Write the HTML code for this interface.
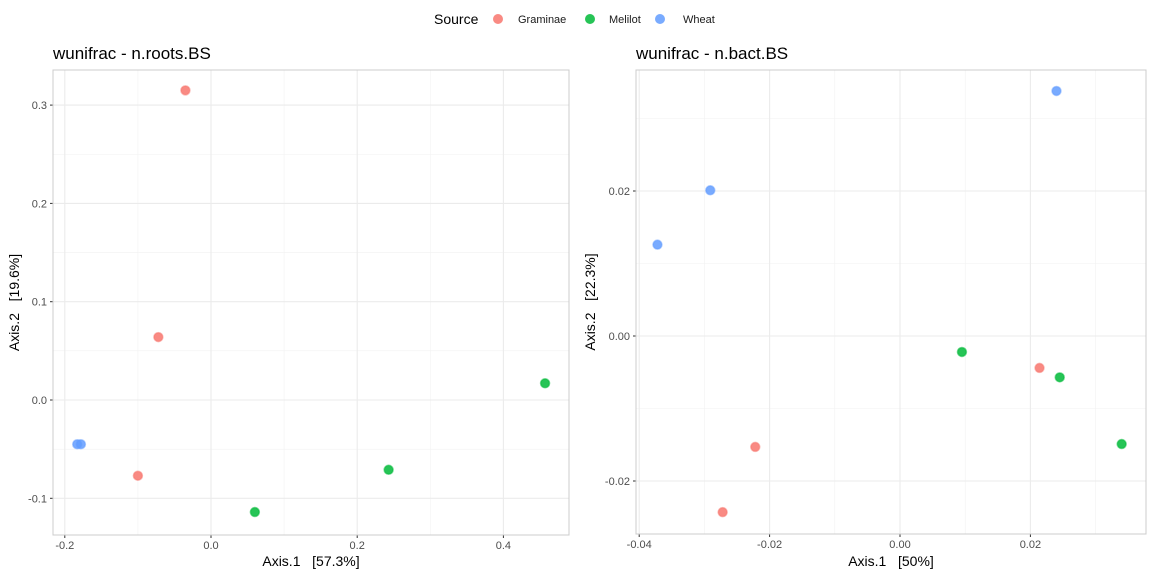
<!DOCTYPE html>
<html><head><meta charset="utf-8"><style>
body{margin:0;background:#fff;width:1152px;height:576px;overflow:hidden;font-family:"Liberation Sans",sans-serif}
text{white-space:pre}
</style></head><body>
<svg id="svg" width="1152" height="576" xmlns="http://www.w3.org/2000/svg" font-family="Liberation Sans, sans-serif">
<g>
<text x="434" y="24" font-size="14" fill="#000">Source</text>
<circle cx="498" cy="19" r="5" fill="#F8766D" fill-opacity="0.85"/>
<text x="518" y="23" font-size="11" fill="#1a1a1a">Graminae</text>
<circle cx="590" cy="19" r="5" fill="#00BA38" fill-opacity="0.85"/>
<text x="609" y="23" font-size="11" fill="#1a1a1a">Melilot</text>
<circle cx="660" cy="19" r="5" fill="#619CFF" fill-opacity="0.85"/>
<text x="683" y="23" font-size="11" fill="#1a1a1a">Wheat</text>
</g>
</svg>
<script>
// Left panel data
const leftGraminaeX=[-0.035,-0.072,-0.1];
const leftGraminaeY=[0.315,0.064,-0.077];
const leftMelilotX=[0.457,0.243,0.06];
const leftMelilotY=[0.017,-0.071,-0.114];
const leftWheatX=[-0.183,-0.178];
const leftWheatY=[-0.045,-0.045];
const leftXTicks=[-0.2,0,0.2,0.4];
const leftXTickLabels=["-0.2","0.0","0.2","0.4"];
const leftYTicks=[-0.1,0,0.1,0.2,0.3];
const leftYTickLabels=["-0.1","0.0","0.1","0.2","0.3"];
// Right panel data
const rightGraminaeX=[0.0214,-0.0222,-0.0272];
const rightGraminaeY=[-0.0044,-0.0153,-0.0243];
const rightMelilotX=[0.0095,0.0245,0.034];
const rightMelilotY=[-0.0022,-0.0057,-0.0149];
const rightWheatX=[0.024,-0.0291,-0.0372];
const rightWheatY=[0.0338,0.0201,0.0126];
const rightXTicks=[-0.04,-0.02,0,0.02];
const rightXTickLabels=["-0.04","-0.02","0.00","0.02"];
const rightYTicks=[-0.02,0,0.02];
const rightYTickLabels=["-0.02","0.00","0.02"];

const NS="http://www.w3.org/2000/svg";
const svg=document.getElementById('svg');
function mk(tag,attrs,parent){const e=document.createElementNS(NS,tag);for(const k in attrs)e.setAttribute(k,attrs[k]);(parent||svg).appendChild(e);return e;}

function panel(p){
  const g=mk('g',{});
  
  
  const sx=v=>p.x0px+(v-p.x0v)*p.xs, sy=v=>p.y0px-(v-p.y0v)*p.ys;
  const xs=p.xTicks, ys=p.yTicks;
  const xstep=xs[1]-xs[0], ystep=ys[1]-ys[0];
  for(let v=xs[0]-xstep*1.5;v<=xs[xs.length-1]+xstep*1.5;v+=xstep){const px=sx(v);if(px>p.L&&px<p.R){const l=mk('line',{x1:px,x2:px,y1:p.T,y2:p.B,stroke:'#f2f2f2','stroke-width':0.6},g);}}
  for(let v=ys[0]-ystep*1.5;v<=ys[ys.length-1]+ystep*1.5;v+=ystep){const py=sy(v);if(py>p.T&&py<p.B){const l=mk('line',{x1:p.L,x2:p.R,y1:py,y2:py,stroke:'#f2f2f2','stroke-width':0.6},g);}}
  xs.forEach((v,i)=>{const px=sx(v);
    const l=mk('line',{x1:px,x2:px,y1:p.T,y2:p.B,stroke:'#ebebeb','stroke-width':1.1},g);
    
    mk('line',{x1:px,x2:px,y1:p.B,y2:p.B+3,stroke:'#333','stroke-width':1},g);
    const t=mk('text',{x:px,y:p.B+14,'font-size':11,fill:'#4d4d4d','text-anchor':'middle'},g);t.textContent=p.xLabels[i];
    });
  ys.forEach((v,i)=>{const py=sy(v);
    const l=mk('line',{x1:p.L,x2:p.R,y1:py,y2:py,stroke:'#ebebeb','stroke-width':1.1},g);
    
    mk('line',{x1:p.L-3,x2:p.L,y1:py,y2:py,stroke:'#333','stroke-width':1},g);
    const t=mk('text',{x:p.L-6,y:py+4,'font-size':11,fill:'#4d4d4d','text-anchor':'end'},g);t.textContent=p.yLabels[i];
    });
  const b=mk('rect',{x:p.L,y:p.T,width:p.R-p.L,height:p.B-p.T,fill:'none',stroke:'#cccccc','stroke-width':1},g);
  
  const ti=mk('text',{x:p.L,y:59,'font-size':17,fill:'#000'},g);ti.textContent=p.title;
  
  const xt=mk('text',{x:(p.L+p.R)/2,y:566,'font-size':14,fill:'#000','text-anchor':'middle'},g);xt.textContent=p.xTitle;
  
  const cy=(p.T+p.B)/2;
  const yt=mk('text',{x:p.yTitleX,y:cy,'font-size':14,fill:'#000','text-anchor':'middle',transform:`rotate(-90 ${p.yTitleX} ${cy})`},g);yt.textContent=p.yTitle;
  
  p.series.forEach(s=>{s.x.forEach((xv,i)=>{
    const c=mk('circle',{cx:sx(xv),cy:sy(s.y[i]),r:4.5,fill:s.color,'fill-opacity':0.85,stroke:s.color,'stroke-opacity':0.5,'stroke-width':1.5},g);
    
    
  });});
}
panel({name:'left-panel',title:'wunifrac - n.roots.BS',xTitle:'Axis.1   [57.3%]',yTitle:'Axis.2   [19.6%]',yTitleX:19,
  L:53,R:569,T:70,B:535,x0px:211,x0v:0,xs:731,y0px:400,y0v:0,ys:983,
  xTicks:leftXTicks,xLabels:leftXTickLabels,yTicks:leftYTicks,yLabels:leftYTickLabels,
  series:[{name:'graminae',color:'#F8766D',x:leftGraminaeX,y:leftGraminaeY},{name:'melilot',color:'#00BA38',x:leftMelilotX,y:leftMelilotY},{name:'wheat',color:'#619CFF',x:leftWheatX,y:leftWheatY}]});
panel({name:'right-panel',title:'wunifrac - n.bact.BS',xTitle:'Axis.1   [50%]',yTitle:'Axis.2   [22.3%]',yTitleX:595,
  L:636,R:1146,T:70,B:534,x0px:900,x0v:0,xs:6520,y0px:336,y0v:0,ys:7250,
  xTicks:rightXTicks,xLabels:rightXTickLabels,yTicks:rightYTicks,yLabels:rightYTickLabels,
  series:[{name:'graminae',color:'#F8766D',x:rightGraminaeX,y:rightGraminaeY},{name:'melilot',color:'#00BA38',x:rightMelilotX,y:rightMelilotY},{name:'wheat',color:'#619CFF',x:rightWheatX,y:rightWheatY}]});
</script>
</body></html>
